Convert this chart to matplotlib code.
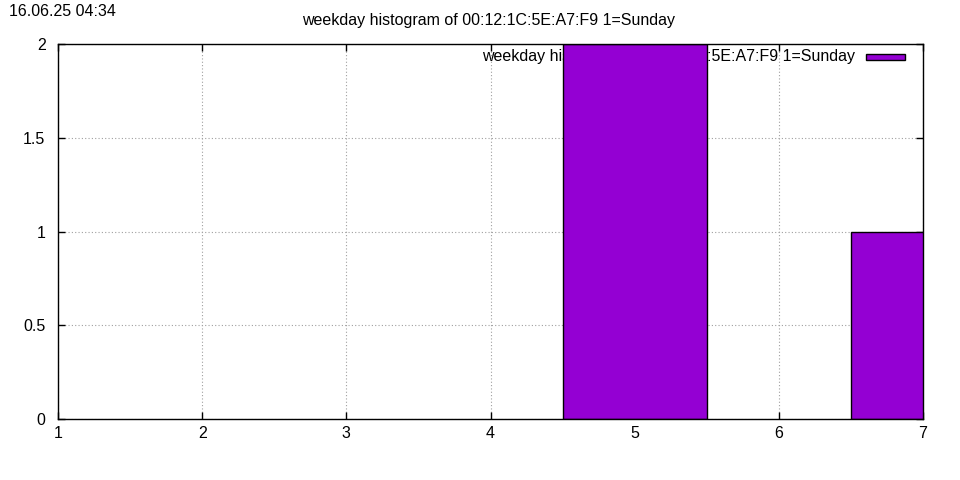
import matplotlib
matplotlib.use("Agg")
import matplotlib.pyplot as plt
from matplotlib.patches import Rectangle

plt.rcParams['font.family'] = ['Liberation Sans', 'DejaVu Sans']

days = [5, 7]
counts = [2, 1]
title = "weekday histogram of 00:12:1C:5E:A7:F9 1=Sunday"
stamp = "16.06.25 04:34"
xticks = [1, 2, 3, 4, 5, 6, 7]
yticks = [0, 0.5, 1, 1.5, 2]
bar_color = "#9400d3"
fs = 11.5

fig = plt.figure(figsize=(9.6, 4.8), dpi=100)
ax = fig.add_axes([58/960, 61/480, 865/960, 375/480])

ax.bar(days, counts, width=1.0, color=bar_color, edgecolor="black",
       linewidth=1.0, zorder=3)

ax.set_xlim(1, 7)
ax.set_ylim(0, 2)
ax.set_xticks(xticks)
ax.set_yticks(yticks)
ax.set_yticklabels(["0", "0.5", "1", "1.5", "2"])
ax.tick_params(direction="in", top=True, right=True, length=5,
               labelsize=fs, width=1)
ax.tick_params(axis="x", pad=5)
ax.tick_params(axis="y", pad=9)
ax.grid(True, color="#a0a0a0", linestyle=(0, (1, 2)), linewidth=0.8, zorder=0)
for s in ax.spines.values():
    s.set_linewidth(1)
    s.set_zorder(5)

# key drawn under the bars, like gnuplot does here
ax.text(855/960, 1 - 56/480, title, transform=fig.transFigure,
        ha="right", va="center", fontsize=fs, zorder=1)
fig.add_artist(Rectangle((866/960, 1 - 60/480), 39/960, 6/480,
                         transform=fig.transFigure, facecolor=bar_color,
                         edgecolor="black", linewidth=1, zorder=1))

fig.text(489/960, 1 - 21/480, title, ha="center", va="center", fontsize=fs)
fig.text(9/960, 1 - 12/480, stamp, ha="left", va="center", fontsize=fs)

fig.savefig("out.png", dpi=100)
